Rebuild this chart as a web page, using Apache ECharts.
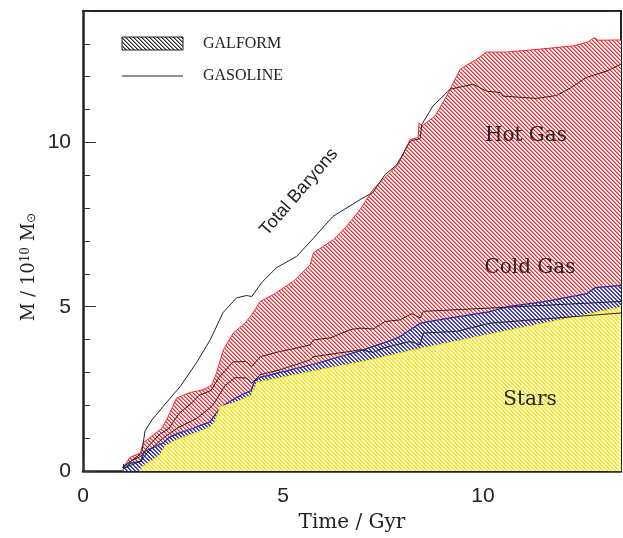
<!DOCTYPE html>
<html><head><meta charset="utf-8">
<script src="https://cdn.jsdelivr.net/npm/echarts@6/dist/echarts.min.js"></script>
<style>html,body{margin:0;padding:0;background:#fff}#c{width:623px;height:538px}</style>
</head><body><div id="c"></div>
<script>
// GALFORM: total baryons (top of hot gas), stars+cold gas, stars  [time Gyr, M / 1e10 Msun]
const galformTotal = [[1.0,0.0],[1.05,0.2],[1.18,0.42],[1.43,0.55],[1.51,0.86],[1.97,1.3],[2.13,1.66],[2.34,2.22],[2.68,2.39],[3.0,2.47],[3.22,2.62],[3.34,2.99],[3.51,3.69],[3.76,4.2],[4.05,4.5],[4.22,4.76],[4.43,5.16],[4.76,5.37],[5.26,5.77],[5.68,6.28],[5.76,6.64],[6.26,7.04],[6.59,7.45],[6.93,7.96],[7.25,8.57],[7.88,9.33],[8.18,10.09],[8.38,10.15],[8.4,10.6],[8.47,10.5],[8.8,10.8],[9.09,11.41],[9.43,12.23],[9.84,12.53],[10.09,12.75],[10.59,12.75],[11.43,12.84],[12.26,12.94],[12.63,13.06],[12.78,13.19],[12.88,13.11],[13.45,13.12]];
const galformStarsCold = [[1.0,0.05],[1.18,0.23],[1.43,0.3],[1.55,0.6],[2.0,0.85],[2.13,1.0],[2.34,1.13],[2.76,1.3],[3.18,1.5],[3.34,1.78],[3.51,2.0],[3.93,2.3],[4.2,2.45],[4.3,2.75],[4.43,2.85],[4.93,3.0],[5.76,3.25],[6.93,3.66],[7.5,3.89],[7.93,4.09],[8.18,4.3],[8.43,4.5],[9.0,4.62],[10.18,4.85],[10.6,5.0],[11.5,5.15],[12.6,5.4],[12.8,5.58],[13.45,5.65]];
const galformStars = [[1.4,0.0],[1.5,0.15],[1.93,0.49],[2.05,0.76],[2.34,0.95],[2.93,1.2],[3.18,1.35],[3.3,1.5],[3.43,1.96],[3.76,2.06],[4.2,2.3],[4.35,2.7],[5.0,2.85],[6.0,3.1],[7.0,3.33],[8.4,3.72],[10.6,4.27],[12.7,4.79],[13.45,4.99]];
// GASOLINE lines
const gasolineTotal = [[0.97,0.1],[1.2,0.3],[1.47,0.55],[1.55,1.22],[1.72,1.55],[2.0,1.96],[2.43,2.57],[2.84,3.3],[3.18,3.99],[3.5,4.82],[3.84,5.27],[4.09,5.34],[4.22,5.31],[4.47,5.74],[4.84,6.19],[5.34,6.53],[5.75,7.07],[6.25,7.75],[6.93,8.26],[7.25,8.48],[7.55,9.02],[7.84,9.31],[8.18,10.04],[8.43,10.12],[8.47,10.55],[8.75,11.11],[9.18,11.62],[9.75,11.77],[10.09,11.56],[10.43,11.52],[10.5,11.41],[11.34,11.34],[11.84,11.43],[12.18,11.65],[12.59,11.98],[13.09,12.17],[13.45,12.38]];
const gasolineStarsCold = [[1.0,0.12],[1.2,0.3],[1.45,0.45],[1.6,0.7],[1.9,1.1],[2.15,1.3],[2.4,1.75],[2.7,2.05],[2.9,2.3],[3.2,2.45],[3.4,2.85],[3.55,3.05],[3.75,3.32],[4.09,3.33],[4.22,3.18],[4.43,3.48],[4.93,3.64],[5.34,3.74],[5.68,3.84],[5.76,3.99],[6.18,4.05],[6.68,4.3],[6.93,4.35],[7.26,4.32],[7.55,4.55],[7.93,4.6],[8.22,4.79],[8.43,4.66],[8.51,4.86],[10.18,4.96],[13.45,5.16]];
const gasolineStars = [[1.0,0.08],[1.45,0.3],[1.6,0.55],[1.95,0.95],[2.35,1.3],[2.84,1.6],[3.2,1.95],[3.3,2.1],[3.55,2.6],[3.8,2.84],[4.09,2.83],[4.22,2.67],[4.43,2.93],[4.93,3.08],[5.68,3.38],[5.76,3.48],[6.68,3.64],[6.93,3.69],[7.26,3.61],[7.51,3.74],[7.93,3.87],[8.18,3.94],[8.43,3.84],[8.51,4.2],[9.34,4.25],[10.18,4.5],[13.45,4.81]];
const xMajorTicks = [0,5,10];
const yMajorTicks = [0,5,10];

function hatch(color, a1, a3){
  const p=4, c=document.createElement('canvas'); c.width=c.height=p;
  const ctx=c.getContext('2d'); ctx.fillStyle='#fff'; ctx.fillRect(0,0,p,p);
  ctx.fillStyle=color;
  for(let y=0;y<p;y++)for(let x=0;x<p;x++){
    const d=((x-y)%p+p)%p;
    const a = d===0?1:(d===1?a1:(d===3?a3:0));
    if(a>0){ctx.globalAlpha=a;ctx.fillRect(x,y,1,1);}
  }
  return {image:c, repeat:'repeat'};
}
const RED='#ee2a30', BLUE='#2a2a9a', YEL='#f6e60e';
const chart=echarts.init(document.getElementById('c'),null,{renderer:'canvas'});
const serif='"DejaVu Serif", serif';
const axBase={type:'value',splitLine:{show:false}};
const fmt=v=> (xMajorTicks.indexOf(v)>=0? String(v):'');
const fmtY=v=> (yMajorTicks.indexOf(v)>=0? String(v):'');
const tickStyle={color:'#333',width:1};
chart.setOption({
  animation:false,
  backgroundColor:'#fff',
  grid:{left:83,right:2,top:11,bottom:67,containLabel:false},
  xAxis:[
    Object.assign({},axBase,{min:0,max:13.45,interval:5,position:'bottom',
      axisLine:{show:true,onZero:false,lineStyle:{color:'#222',width:2.5}},
      axisTick:{show:true,inside:true,length:13,lineStyle:tickStyle},
      axisLabel:{show:true,margin:15,fontSize:21,fontFamily:'"Liberation Sans", Arial',color:'#222',formatter:fmt,showMaxLabel:false}}),
    Object.assign({},axBase,{min:0,max:13.45,interval:1,position:'bottom',
      axisLine:{show:false,onZero:false},axisTick:{show:true,inside:true,length:7,lineStyle:tickStyle},axisLabel:{show:false}}),
    Object.assign({},axBase,{min:0,max:13.45,position:'top',
      axisLine:{show:true,onZero:false,lineStyle:{color:'#222',width:2}},axisTick:{show:false},axisLabel:{show:false}})
  ],
  yAxis:[
    Object.assign({},axBase,{min:0,max:14,interval:5,position:'left',
      axisLine:{show:true,onZero:false,lineStyle:{color:'#222',width:2.5}},
      axisTick:{show:true,inside:true,length:13,lineStyle:tickStyle},
      axisLabel:{show:true,margin:12,fontSize:21,fontFamily:'"Liberation Sans", Arial',color:'#222',formatter:fmtY,showMaxLabel:false}}),
    Object.assign({},axBase,{min:0,max:14,interval:1,position:'left',
      axisLine:{show:false,onZero:false},axisTick:{show:true,inside:true,length:7,lineStyle:tickStyle},axisLabel:{show:false}}),
    Object.assign({},axBase,{min:0,max:14,interval:5,position:'right',
      axisLine:{show:true,onZero:false,lineStyle:{color:'#222',width:2}},
      axisTick:{show:true,inside:true,length:13,lineStyle:tickStyle},axisLabel:{show:false}}),
    Object.assign({},axBase,{min:0,max:14,interval:1,position:'right',
      axisLine:{show:false,onZero:false},axisTick:{show:true,inside:true,length:7,lineStyle:tickStyle},axisLabel:{show:false}})
  ],
  series:[
    {type:'line',data:galformTotal,showSymbol:false,symbol:'none',lineStyle:{color:RED,width:1},areaStyle:{color:hatch(RED,0.55,0.12),opacity:1},z:1},
    {type:'line',data:galformStarsCold,showSymbol:false,symbol:'none',lineStyle:{color:BLUE,width:1.2},areaStyle:{color:hatch(BLUE,0.75,0.15),opacity:1},z:2},
    {type:'line',data:galformStars,showSymbol:false,symbol:'none',lineStyle:{color:YEL,width:1},areaStyle:{color:hatch(YEL,0.85,0.2),opacity:1},z:3},
    {type:'line',data:gasolineTotal,showSymbol:false,symbol:'none',lineStyle:{color:'#222',width:1},z:5},
    {type:'line',data:gasolineStarsCold,showSymbol:false,symbol:'none',lineStyle:{color:'#222',width:1},z:5},
    {type:'line',data:gasolineStars,showSymbol:false,symbol:'none',lineStyle:{color:'#222',width:1},z:5}
  ],
  graphic:[
    {type:'rect',shape:{x:122,y:37,width:61,height:13},style:{fill:hatch('#222',0.5,0),stroke:'#222',lineWidth:1},z:10},
    {type:'line',shape:{x1:122,y1:76,x2:183,y2:76},style:{stroke:'#222',lineWidth:1},z:10},
    {type:'text',x:203,y:44,style:{text:'GALFORM',font:'16px "Liberation Serif"',fill:'#222',textVerticalAlign:'middle',verticalAlign:'middle'},z:10},
    {type:'text',x:203,y:76,style:{text:'GASOLINE',font:'16px "Liberation Serif"',fill:'#222',textVerticalAlign:'middle',verticalAlign:'middle'},z:10},
    {type:'text',x:299,y:192,rotation:49*Math.PI/180,style:{text:'Total Baryons',font:'18px "Liberation Sans"',fill:'#222',textAlign:'center',textVerticalAlign:'middle',verticalAlign:'middle'},z:10},
    {type:'text',x:526,y:136,style:{text:'Hot Gas',font:'20px '+serif,fill:'#222',textAlign:'center',textVerticalAlign:'middle',verticalAlign:'middle'},z:10},
    {type:'text',x:530,y:268,style:{text:'Cold Gas',font:'20px '+serif,fill:'#222',textAlign:'center',textVerticalAlign:'middle',verticalAlign:'middle'},z:10},
    {type:'text',x:530,y:400,style:{text:'Stars',font:'20px '+serif,fill:'#222',textAlign:'center',textVerticalAlign:'middle',verticalAlign:'middle'},z:10},
    {type:'text',x:352,y:523,style:{text:'Time / Gyr',font:'20px '+serif,fill:'#222',textAlign:'center',textVerticalAlign:'middle',verticalAlign:'middle'},z:10},
    {type:'text',x:29,y:267,rotation:Math.PI/2,style:{text:'M / 10{sup|10} M{sub|⊙}',font:'18px '+serif,fill:'#222',textAlign:'center',textVerticalAlign:'middle',verticalAlign:'middle',
      rich:{sup:{fontSize:12,fontFamily:'"DejaVu Serif"',verticalAlign:'top',fill:'#222'},sub:{fontSize:12,fontFamily:'"DejaVu Sans"',verticalAlign:'bottom',fill:'#222'}}},z:10}
  ]
});
</script></body></html>
